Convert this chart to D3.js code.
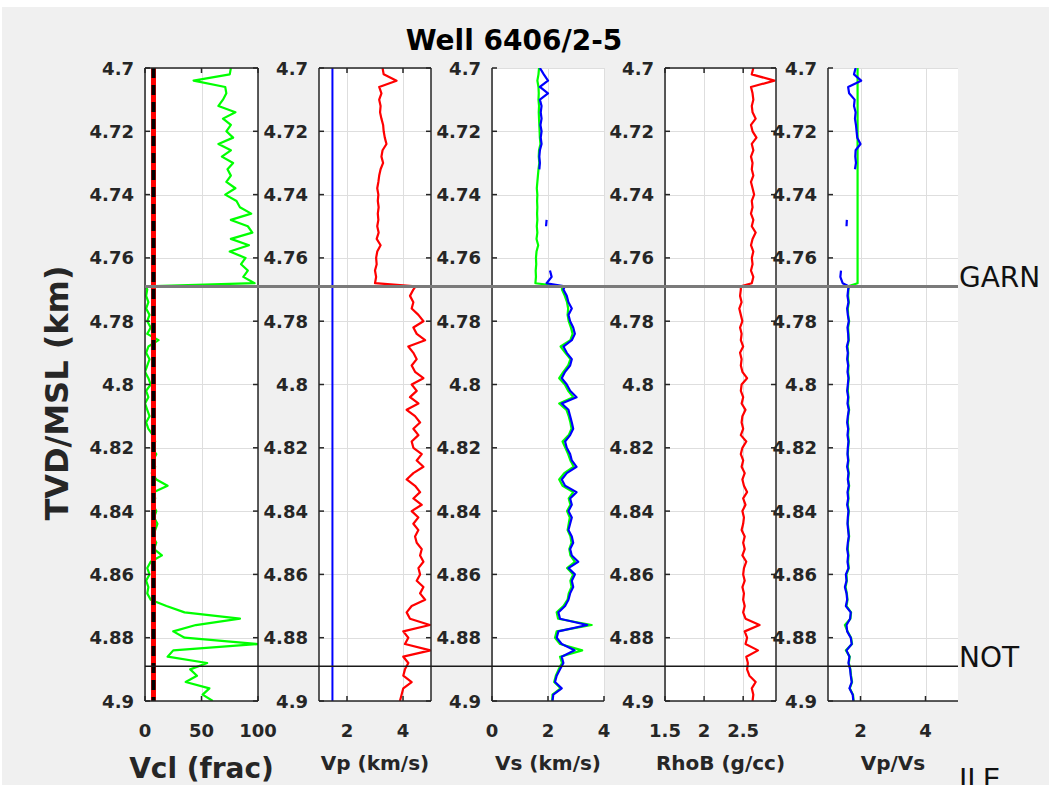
<!DOCTYPE html>
<html>
<head>
<meta charset="utf-8">
<script src="https://cdn.jsdelivr.net/npm/d3@7"></script>
<style>
  html, body { margin: 0; padding: 0; background: #ffffff; }
  svg { display: block; }
  text { font-family: "DejaVu Sans", sans-serif; }
</style>
</head>
<body>
<svg id="chart" width="1049" height="785"></svg>
<script>
// ---- log data, well 6406/2-5 ----
// Samples every 2 m, with an extra sample at the GARN top (4.769 km)
// so the step across the formation boundary stays sharp.
const depthAbove = d3.range(35).map(i => +(4.700 + 0.002 * i).toFixed(3));
const depthBelow = [4.769].concat(d3.range(66).map(i => +(4.770 + 0.002 * i).toFixed(3)));
const depth = depthAbove.concat(depthBelow);

// Clay volume (%)
const vcl = [
  76,75,43,71,72,69,65,80,69,76, 72,78,65,76,68,78,73,76,72,80,
  71,81,84,94,76,91,95,76,92,75, 89,85,91,87,97,
  1,
  2,1,3,1,4,2,5,2,12,3, 1,4,2,0,3,5,1,3,0,2,
  4,1,3,7,9,6,10,7,9,6, 10,20,8,9,7,10,8,11,9,7,
  10,8,15,5,2,4,1,3,2,5, 19,35,84,45,25,35,100,25,20,55,
  40,46,36,57,51,60
];
const vclCutoff = 7.5;

// P-wave velocity (km/s)
const vp = [
  3.27,3.31,3.77,3.15,3.23,3.15,3.20,3.18,3.23,3.29,
  3.31,3.35,3.41,3.27,3.23,3.29,3.20,3.15,3.12,3.08,
  3.12,3.10,3.13,3.10,3.12,3.08,3.13,3.06,3.20,3.08,
  3.04,3.06,3.00,3.04,3.00,
  4.45,
  4.37,4.25,4.37,4.31,4.55,4.73,4.37,4.49,4.79,4.19,
  4.37,4.49,4.31,4.43,4.73,4.31,4.49,4.25,4.55,4.13,
  4.43,4.61,4.37,4.55,4.31,4.37,4.67,4.49,4.73,4.37,
  4.13,4.43,4.61,4.37,4.67,4.31,4.55,4.37,4.55,4.43,
  4.49,4.67,4.61,4.73,4.55,4.61,4.49,4.73,4.61,4.79,
  4.31,4.13,4.25,4.96,4.01,4.19,4.07,4.98,4.01,4.19,
  4.07,4.01,4.31,4.01,3.95,3.89
];
const vpWater = 1.48;

// S-wave velocity (km/s): modelled (green) and measured (blue)
const vsModel = [
  1.68,1.66,1.62,1.66,1.67,1.66,1.68,1.67,1.68,1.69,
  1.70,1.71,1.73,1.68,1.67,1.69,1.66,1.64,1.62,1.60,
  1.62,1.61,1.62,1.61,1.62,1.60,1.62,1.59,1.65,1.59,
  1.57,1.58,1.56,1.57,1.55,
  2.50,
  2.50,2.60,2.68,2.72,2.70,2.74,2.82,2.88,2.80,2.45,
  2.62,2.80,2.72,2.55,2.40,2.60,2.72,2.90,2.40,2.66,
  2.74,2.80,2.84,2.74,2.52,2.62,2.72,2.80,2.92,2.58,
  2.40,2.52,2.90,2.74,2.80,2.68,2.78,2.74,2.70,2.80,
  2.84,2.76,2.80,2.96,2.68,2.90,2.80,2.84,2.74,2.70,
  2.55,2.31,2.36,3.56,2.31,2.25,2.43,3.22,2.43,2.50,
  2.38,2.28,2.22,2.45,2.16,2.15
];
const vsLog = [
  1.71,1.85,2.00,1.71,2.00,1.71,1.77,1.74,1.77,1.73,
  1.77,1.74,1.77,1.71,1.69,1.71,1.69,null,null,null,
  null,null,null,null,1.95,1.93,null,null,null,null,
  null,null,2.07,2.13,1.95,
  2.60,
  2.55,2.67,2.73,2.85,2.73,2.79,2.90,2.96,2.85,2.55,
  2.67,2.85,2.79,2.61,2.49,2.67,2.79,3.02,2.49,2.73,
  2.79,2.85,2.90,2.79,2.61,2.67,2.79,2.85,3.02,2.67,
  2.49,2.61,3.02,2.79,2.85,2.73,2.85,2.79,2.73,2.85,
  2.90,2.79,2.85,3.08,2.73,2.96,2.85,2.90,2.79,2.73,
  2.61,2.37,2.43,3.40,2.37,2.31,2.49,2.95,2.49,2.55,
  2.43,2.31,2.25,2.49,2.19,2.16
];

// Bulk density (g/cc)
const rhob = [
  2.63,2.61,2.90,2.60,2.62,2.63,2.61,2.62,2.66,2.60,
  2.62,2.67,2.61,2.63,2.60,2.62,2.61,2.63,2.60,2.62,
  2.64,2.61,2.62,2.60,2.63,2.61,2.66,2.62,2.60,2.63,
  2.61,2.62,2.60,2.63,2.61,
  2.47,
  2.47,2.46,2.48,2.45,2.47,2.49,2.46,2.48,2.47,2.50,
  2.46,2.48,2.47,2.49,2.55,2.48,2.47,2.50,2.48,2.53,
  2.49,2.48,2.50,2.47,2.54,2.49,2.47,2.50,2.48,2.52,
  2.49,2.51,2.55,2.50,2.53,2.49,2.51,2.50,2.48,2.52,
  2.50,2.52,2.49,2.54,2.51,2.50,2.52,2.49,2.51,2.50,
  2.52,2.50,2.53,2.71,2.52,2.55,2.53,2.69,2.54,2.56,
  2.55,2.58,2.66,2.61,2.63,2.62
];

// Vp/Vs ratio: modelled (green) and measured (blue)
const vpvsModel = [
  1.91,1.91,1.91,1.91,1.91,1.91,1.91,1.91,1.91,1.91,
  1.91,1.91,1.91,1.91,1.91,1.91,1.91,1.91,1.91,1.91,
  1.91,1.91,1.91,1.91,1.91,1.91,1.91,1.91,1.91,1.91,
  1.91,1.91,1.91,1.91,1.91,
  1.62,
  1.63,1.62,1.64,1.61,1.62,1.65,1.62,1.63,1.64,1.60,
  1.62,1.61,1.63,1.62,1.64,1.62,1.61,1.63,1.62,1.65,
  1.62,1.61,1.63,1.62,1.64,1.62,1.61,1.63,1.61,1.64,
  1.62,1.65,1.62,1.63,1.61,1.64,1.62,1.61,1.63,1.65,
  1.62,1.61,1.63,1.62,1.64,1.57,1.58,1.54,1.58,1.60,
  1.57,1.71,1.69,1.52,1.60,1.71,1.74,1.55,1.67,1.64,
  1.69,1.71,1.74,1.67,1.77,1.79
];
const vpvsLog = [
  1.85,1.80,2.02,1.62,1.65,1.82,1.80,1.85,1.83,1.86,
  1.88,1.90,2.00,1.85,1.84,1.86,1.83,null,null,null,
  null,null,null,null,1.58,1.57,null,null,null,null,
  null,null,1.40,1.38,1.45,
  1.65,
  1.62,1.60,1.63,1.59,1.61,1.64,1.60,1.62,1.63,1.58,
  1.61,1.59,1.62,1.60,1.63,1.61,1.59,1.62,1.60,1.64,
  1.61,1.59,1.62,1.60,1.63,1.61,1.60,1.62,1.59,1.63,
  1.61,1.64,1.60,1.62,1.59,1.63,1.61,1.60,1.62,1.64,
  1.61,1.59,1.62,1.60,1.63,1.55,1.57,1.52,1.57,1.59,
  1.55,1.70,1.68,1.57,1.59,1.70,1.73,1.57,1.66,1.63,
  1.68,1.70,1.73,1.66,1.76,1.78
];

// Formation tops
const tops = [
  { name: "GARN", depth: 4.769 },
  { name: "NOT",  depth: 4.889 },
  { name: "ILE",  depth: 4.9275 }
];

const depthTicks = [4.70, 4.72, 4.74, 4.76, 4.78, 4.80, 4.82, 4.84, 4.86, 4.88, 4.90];

// ---- layout ----
const W = 1049, H = 785;
const plotTop = 68, plotBottom = 701;
const ink = "#262626";

const svg = d3.select("#chart");
svg.append("rect").attr("x", 0).attr("y", 0).attr("width", W).attr("height", H).attr("fill", "#ffffff");
svg.append("rect").attr("x", 2).attr("y", 7).attr("width", W - 2).attr("height", H - 7).attr("fill", "#f0f0f0");

const y = d3.scaleLinear().domain([4.7, 4.9]).range([plotTop, plotBottom]);

const panels = [
  { id: "vcl",  x0: 145, x1: 258, domain: [0, 100],     ticks: [0, 50, 100],  label: "Vcl (frac)",  labelSize: 28, labelY: 778, box: true },
  { id: "vp",   x0: 319, x1: 431, domain: [1, 5],       ticks: [2, 4],        label: "Vp (km/s)",   labelSize: 20, labelY: 770, box: true },
  { id: "vs",   x0: 492, x1: 604, domain: [0, 4],       ticks: [0, 2, 4],     label: "Vs (km/s)",   labelSize: 20, labelY: 770, box: false },
  { id: "rhob", x0: 665, x1: 776, domain: [1.5, 2.92],  ticks: [1.5, 2, 2.5], label: "RhoB (g/cc)", labelSize: 20, labelY: 770, box: true },
  { id: "vpvs", x0: 828, x1: 958, domain: [1, 5],       ticks: [2, 4],        label: "Vp/Vs",       labelSize: 20, labelY: 770, box: false }
];

const fmt = d => String(+d.toFixed(2));

panels.forEach(p => {
  p.x = d3.scaleLinear().domain(p.domain).range([p.x0, p.x1]);
  const g = svg.append("g").attr("class", "panel-" + p.id);
  p.g = g;
  g.append("rect")
    .attr("x", p.x0).attr("y", plotTop)
    .attr("width", p.x1 - p.x0).attr("height", plotBottom - plotTop)
    .attr("fill", "#ffffff");

  // grid
  const grid = g.append("g").attr("stroke", "#dedede").attr("stroke-width", 1);
  depthTicks.forEach(t => {
    grid.append("line").attr("x1", p.x0).attr("x2", p.x1)
      .attr("y1", Math.round(y(t)) + 0.5).attr("y2", Math.round(y(t)) + 0.5);
  });
  p.ticks.forEach(t => {
    grid.append("line").attr("y1", plotTop).attr("y2", plotBottom)
      .attr("x1", Math.round(p.x(t)) + 0.5).attr("x2", Math.round(p.x(t)) + 0.5);
  });

  g.append("clipPath").attr("id", "clip-" + p.id)
    .append("rect").attr("x", p.x0).attr("y", plotTop)
    .attr("width", p.x1 - p.x0).attr("height", plotBottom - plotTop);
  p.plot = g.append("g").attr("clip-path", "url(#clip-" + p.id + ")");
});

function curve(p, values, color, width) {
  const line = d3.line()
    .defined((d, i) => values[i] !== null)
    .x((d, i) => p.x(values[i]))
    .y(d => y(d));
  p.plot.append("path").datum(depth)
    .attr("d", line)
    .attr("fill", "none")
    .attr("stroke", color)
    .attr("stroke-width", width)
    .attr("stroke-linejoin", "round");
}
function vertical(p, value, color, width, dash) {
  const s = p.plot.append("line")
    .attr("x1", p.x(value)).attr("x2", p.x(value))
    .attr("y1", plotTop).attr("y2", plotBottom)
    .attr("stroke", color).attr("stroke-width", width);
  if (dash) s.attr("stroke-dasharray", dash);
}

const [pVcl, pVp, pVs, pRho, pRatio] = panels;

curve(pVcl, vcl, "#00ff00", 2.2);
vertical(pVcl, vclCutoff, "#ff0000", 5);
vertical(pVcl, vclCutoff, "#000000", 4, "10,7");

vertical(pVp, vpWater, "#0000ff", 2);
curve(pVp, vp, "#ff0000", 2.2);

curve(pVs, vsModel, "#00ff00", 2.2);
curve(pVs, vsLog, "#0000ff", 2.2);

curve(pRho, rhob, "#ff0000", 2.2);

curve(pRatio, vpvsModel, "#00ff00", 2.2);
curve(pRatio, vpvsLog, "#0000ff", 2.2);

// axes, ticks and labels
panels.forEach(p => {
  const g = p.g;
  const tl = 5;
  const ax = g.append("g").attr("stroke", ink).attr("stroke-width", 1.5).attr("fill", "none");
  ax.append("line").attr("x1", p.x0).attr("x2", p.x0).attr("y1", plotTop).attr("y2", plotBottom);
  ax.append("line").attr("x1", p.x0).attr("x2", p.x1).attr("y1", plotBottom).attr("y2", plotBottom);
  if (p.box) {
    ax.append("line").attr("x1", p.x1).attr("x2", p.x1).attr("y1", plotTop).attr("y2", plotBottom);
    ax.append("line").attr("x1", p.x0).attr("x2", p.x1).attr("y1", plotTop).attr("y2", plotTop);
  }
  depthTicks.forEach(t => {
    ax.append("line").attr("x1", p.x0).attr("x2", p.x0 + tl).attr("y1", y(t)).attr("y2", y(t));
    if (p.box) ax.append("line").attr("x1", p.x1).attr("x2", p.x1 - tl).attr("y1", y(t)).attr("y2", y(t));
  });
  p.ticks.forEach(t => {
    ax.append("line").attr("x1", p.x(t)).attr("x2", p.x(t)).attr("y1", plotBottom).attr("y2", plotBottom - tl);
    if (p.box) ax.append("line").attr("x1", p.x(t)).attr("x2", p.x(t)).attr("y1", plotTop).attr("y2", plotTop + tl);
  });

  const lab = g.append("g").attr("fill", ink).attr("font-weight", "bold").attr("font-size", 18);
  depthTicks.forEach(t => {
    lab.append("text").attr("x", p.x0 - 11).attr("y", y(t))
      .attr("text-anchor", "end").attr("dominant-baseline", "central").text(fmt(t));
  });
  p.ticks.forEach(t => {
    lab.append("text").attr("x", p.x(t)).attr("y", plotBottom + 29)
      .attr("text-anchor", "middle").attr("dominant-baseline", "central").text(fmt(t));
  });
  g.append("text").attr("x", (p.x0 + p.x1) / 2).attr("y", p.labelY)
    .attr("text-anchor", "middle").attr("fill", ink).attr("font-weight", "bold")
    .attr("font-size", p.labelSize).text(p.label);
});

// formation tops across all tracks
const xLeft = panels[0].x0, xRight = panels[panels.length - 1].x1;
svg.append("line").attr("x1", xLeft).attr("x2", xRight)
  .attr("y1", y(tops[0].depth)).attr("y2", y(tops[0].depth))
  .attr("stroke", "#7a7a7a").attr("stroke-width", 3);
svg.append("line").attr("x1", xLeft).attr("x2", xRight)
  .attr("y1", y(tops[1].depth)).attr("y2", y(tops[1].depth))
  .attr("stroke", "#1a1a1a").attr("stroke-width", 1.5);
tops.forEach(t => {
  svg.append("text").attr("x", xRight + 1).attr("y", y(t.depth) + 1)
    .attr("font-size", 28).attr("fill", "#111").text(t.name);
});

// depth axis label and title
svg.append("text")
  .attr("transform", "translate(68,393) rotate(-90)")
  .attr("text-anchor", "middle").attr("font-weight", "bold").attr("font-size", 32)
  .attr("fill", ink).text("TVD/MSL (km)");
svg.append("text").attr("x", 514).attr("y", 50)
  .attr("text-anchor", "middle").attr("font-weight", "bold").attr("font-size", 28)
  .attr("fill", "#000").text("Well 6406/2-5");
</script>
</body>
</html>
